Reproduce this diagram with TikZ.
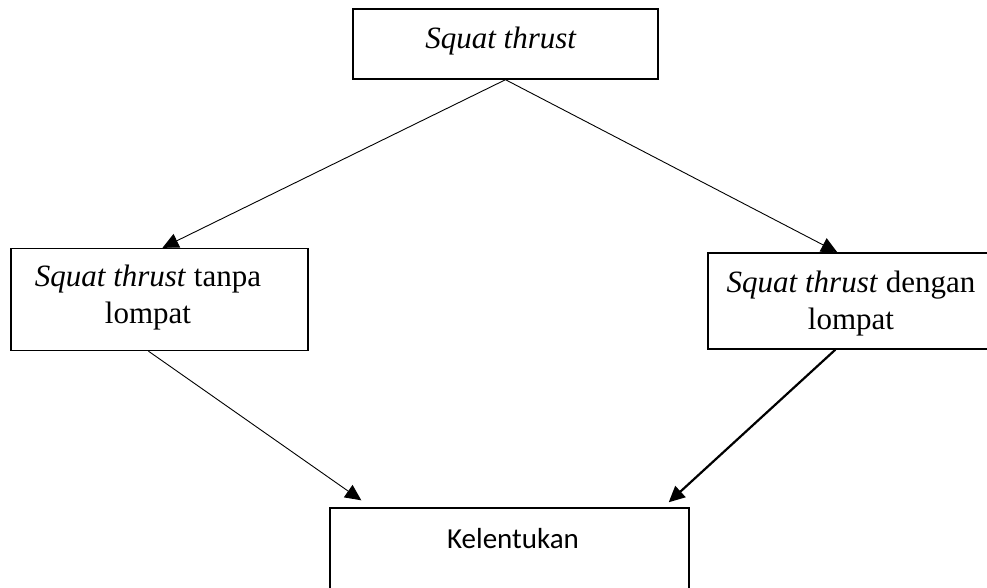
\documentclass[tikz,border=0pt]{standalone}
\usepackage{fontspec}
\setmainfont{Liberation Serif}
\newfontfamily\calfont{Carlito}
\usetikzlibrary{arrows.meta,calc}
\tikzset{
  box/.style={draw, line width=1.4pt, rectangle, inner sep=0pt},
  txt/.style={inner sep=0pt, align=center, font=\fontsize{31}{37}\selectfont},
  conn/.style={line width=0.9pt, -{Triangle[length=16pt,width=15pt]}},
  connthick/.style={line width=2.2pt, -{Triangle[length=16pt,width=15pt]}}
}
\begin{document}
\begin{tikzpicture}[x=1pt,y=-1pt]
\useasboundingbox (0,0) rectangle (987,587);
\clip (0,0) rectangle (987,587);
\fill[white] (0,0) rectangle (987,587);
% boxes
\node[box, minimum width=305pt, minimum height=70pt] (top) at (505.5,44) {};
\node[box, minimum width=297pt, minimum height=102pt] (left) at (159.5,299.5) {};
\node[box, minimum width=290pt, minimum height=96pt] (right) at (853,301) {};
\node[box, minimum width=359pt, minimum height=120pt] (bottom) at (509.5,568) {};
% texts
\node[txt, anchor=base] (toptxt) at (501,48) {\textit{Squat thrust}};
\node[txt] (lefttxt) at (148,298) {\textit{Squat thrust} tanpa\\lompat};
\node[txt] (righttxt) at (851,304) {\textit{Squat thrust} dengan\\lompat};
\node[txt, anchor=base, font=\calfont\fontsize{29}{34}\selectfont] (bottxt) at (513,548) {Kelentukan};
% connectors
\draw[conn] (top.south) -- ([xshift=3pt]left.north);
\draw[conn] (top.south) -- ([xshift=130pt]right.north west);
\draw[conn] ([xshift=-11pt]left.south) -- ([xshift=32pt,yshift=7pt]bottom.north west);
\draw[connthick] ([xshift=128pt]right.south west) -- ([xshift=-21pt,yshift=5pt]bottom.north east);
\end{tikzpicture}
\end{document}
